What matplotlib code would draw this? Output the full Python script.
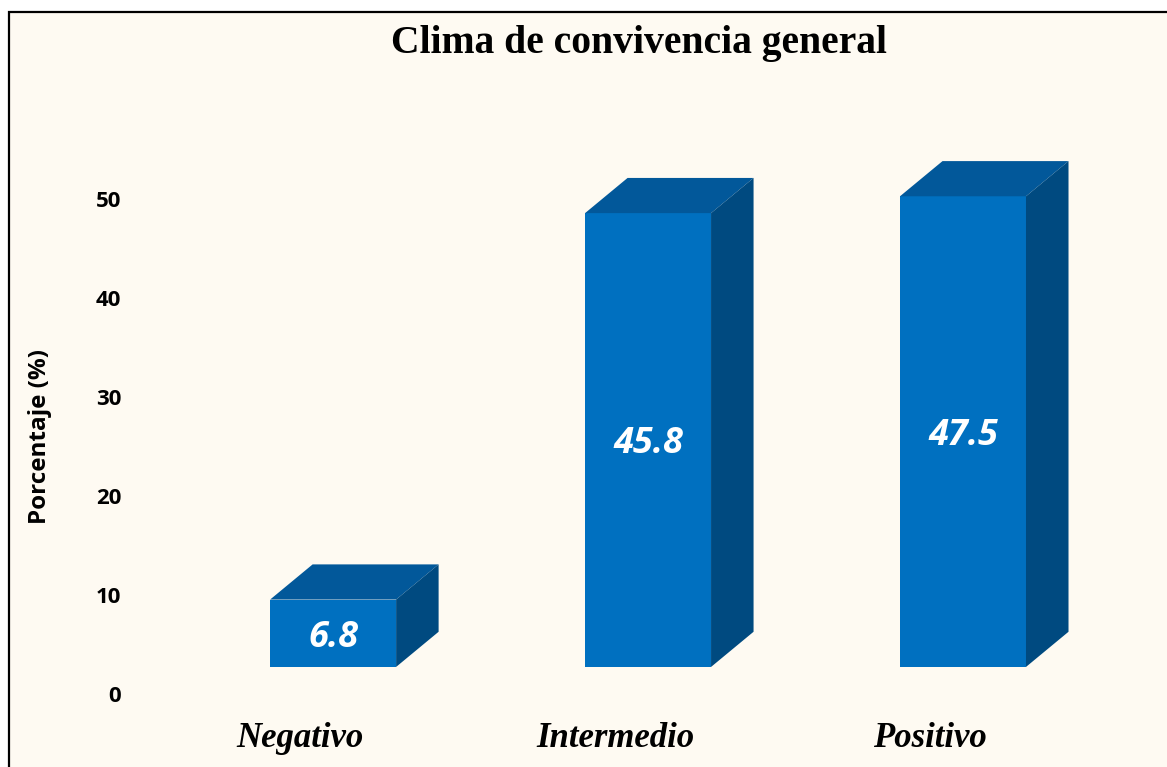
import matplotlib
matplotlib.use('Agg')
import matplotlib.pyplot as plt
from matplotlib.patches import Polygon, Rectangle
import numpy as np

categories = ['Negativo', 'Intermedio', 'Positivo']
values = [6.8, 45.8, 47.5]
y_ticks = [0, 10, 20, 30, 40, 50]

BG = '#FEFAF2'
FRONT = '#0070C0'
TOP = '#02589A'
SIDE = '#004A80'

fig = plt.figure(figsize=(11.67, 7.67), dpi=100, facecolor='white')

# frame around the chart area
frame = Rectangle((9 / 1167, -0.1), 1.2, 1.1 - 12 / 767,
                  transform=fig.transFigure, facecolor=BG,
                  edgecolor='black', linewidth=1.6, zorder=-10)
fig.patches.append(frame)

ax = fig.add_axes([135 / 1167, 73 / 767, 1005 / 1167, 544 / 767])
ax.set_facecolor('none')
ax.set_zorder(5)

x = np.arange(len(categories))
shift = 0.105      # front face offset from category position
w = 0.4            # bar width
floor = 2.73       # front face floor (3D offset)
dx, dy = 0.135, 3.55

ax.bar(x + shift, values, width=w, bottom=floor, color=FRONT, zorder=2)
for xi, v in zip(x, values):
    x0 = xi + shift - w / 2
    x1 = xi + shift + w / 2
    top = floor + v
    ax.add_patch(Polygon([(x0, top), (x0 + dx, top + dy), (x1 + dx, top + dy), (x1, top)],
                         closed=True, facecolor=TOP, edgecolor='none', zorder=2))
    ax.add_patch(Polygon([(x1, floor), (x1 + dx, floor + dy), (x1 + dx, top + dy), (x1, top)],
                         closed=True, facecolor=SIDE, edgecolor='none', zorder=2))
    ax.text(xi + shift, floor + v / 2 - 0.45, f'{v:.1f}', ha='center', va='center',
            color='white', fontsize=26, fontweight='bold', fontstyle='italic',
            family='Open Sans', zorder=3)

ax.set_xlim(-0.524, 2.667)
ax.set_ylim(0, 54.9)
ax.set_yticks(y_ticks)
ax.set_yticklabels([str(t) for t in y_ticks], fontsize=16, fontweight='bold',
                   family='Open Sans')
ax.set_xticks(x)
ax.set_xticklabels(categories, fontsize=25, fontweight='bold', fontstyle='italic',
                   family='Liberation Serif')
ax.tick_params(axis='y', length=0, pad=10)
ax.tick_params(axis='x', length=0, pad=20)
for s in ax.spines.values():
    s.set_visible(False)

fig.text(639 / 1167, 1 - 53 / 767, 'Clima de convivencia general', ha='center',
         va='baseline', fontsize=28.5, fontweight='bold', family='Liberation Serif')
fig.text(40 / 1167, 1 - 437 / 767, 'Porcentaje (%)', rotation=90, ha='center',
         va='center', fontsize=17.5, fontweight='bold', family='Open Sans')

fig.savefig('out.png', dpi=100, facecolor='white')
